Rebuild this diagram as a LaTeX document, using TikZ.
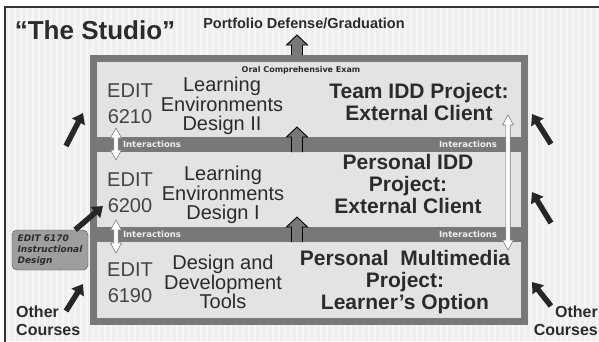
\documentclass[tikz,border=0pt]{standalone}
\usepackage{fontspec}
\setmainfont{Liberation Sans}
\newfontfamily\labelfam{DejaVu Sans}
\usetikzlibrary{arrows.meta,positioning}

\definecolor{bggray}{HTML}{EFEFEF}
\definecolor{framegray}{HTML}{787878}
\definecolor{panelgray}{HTML}{E3E3E3}
\definecolor{inkgray}{HTML}{2B2B2B}
\definecolor{codegray}{HTML}{444444}
\definecolor{boxgray}{HTML}{9E9E9E}

\tikzset{
  course/.style={font=\fontsize{20}{26}\selectfont, text=codegray, align=center, inner sep=0pt},
  coursename/.style={font=\fontsize{20}{19.5}\selectfont, text=inkgray, align=center, inner sep=0pt},
  project/.style={font=\bfseries\fontsize{21}{22}\selectfont, text=inkgray, align=center, inner sep=0pt},
  interact/.style={font=\labelfam\bfseries\fontsize{8.5}{9}\selectfont, text=gray!12, inner sep=0pt},
  others/.style={font=\bfseries\fontsize{16}{18.5}\selectfont, text=inkgray, inner sep=0pt},
  feeder/.style={line width=5.5pt, -{Triangle[length=10pt,width=14pt]}, black!85},
  blockup/.style={fill=framegray, draw=black, line width=0.9pt, line join=miter},
  twowayfill/.style={fill=white, draw=gray, line width=0.6pt},
}

% block arrow: x, tip y, base y
\newcommand{\studioup}[3]{%
  \draw[blockup] (#1-5.5,#3) -- (#1-5.5,#2+10) -- (#1-10.5,#2+10) -- (#1,#2)
    -- (#1+10.5,#2+10) -- (#1+5.5,#2+10) -- (#1+5.5,#3);}
% white two-headed arrow: x, top y, bottom y
\newcommand{\twoway}[3]{%
  \draw[twowayfill] (#1,#2) -- (#1+5.5,#2+10) -- (#1+2.2,#2+10) -- (#1+2.2,#3-10) -- (#1+5.5,#3-10)
    -- (#1,#3) -- (#1-5.5,#3-10) -- (#1-2.2,#3-10) -- (#1-2.2,#2+10) -- (#1-5.5,#2+10) -- cycle;}

\begin{document}
\begin{tikzpicture}[x=1pt, y=-1pt]
\useasboundingbox (0,0) rectangle (599,341);

% striped backdrop
\fill[white] (0,0) rectangle (599,341);
\fill[bggray] (5,7) rectangle (599,341);
\foreach \x in {9,15,...,597}
  \draw[white, line width=2pt, opacity=0.45] (\x,8) -- (\x,341);
\draw[black!80, line width=1.5pt] (5,7) rectangle (604,346);

% the three levels
\fill[framegray] (90,55) rectangle (528,325);
\fill[panelgray] (97,62) rectangle (521,137);
\fill[panelgray] (97,152) rectangle (521,227);
\fill[panelgray] (97,242) rectangle (521,318);

\node[font=\bfseries\fontsize{26}{26}\selectfont, text=inkgray, inner sep=0pt] (studio) at (95,30) {“The Studio”};
\node[font=\bfseries\fontsize{14.5}{15}\selectfont, text=inkgray, inner sep=0pt, anchor=base] (grad) at (304,28) {Portfolio Defense/Graduation};
\node[font=\labelfam\bfseries\fontsize{8}{9}\selectfont, text=inkgray, inner sep=0pt, anchor=base] (exam) at (301,72.5) {Oral Comprehensive Exam};

\node[course] (c6210) at (130,104) {EDIT\\6210};
\node[coursename] (n6210) at (222,106) {Learning\\Environments\\Design II};
\node[project] (p6210) at (419,102) {Team IDD Project:\\External Client};

\node[course] (c6200) at (130,193) {EDIT\\6200};
\node[coursename] (n6200) at (223,195) {Learning\\Environments\\Design I};
\node[project] (p6200) at (408,184) {Personal IDD\\Project:\\External Client};

\node[course] (c6190) at (130,283) {EDIT\\6190};
\node[coursename] (n6190) at (223,282) {Design and\\Development\\Tools};
\node[project] (p6190) at (405,282) {Personal\ \ Multimedia\\Project:\\Learner’s Option};

\node[interact] (ia1) at (152,144.5) {Interactions};
\node[interact] (ia2) at (468,144.5) {Interactions};
\node[interact] (ia3) at (152,234.5) {Interactions};
\node[interact] (ia4) at (468,234.5) {Interactions};

% moving up
\studioup{297}{35}{55}
\studioup{297}{127}{152}
\studioup{297}{217}{242}

\twoway{116}{128}{160}
\twoway{116}{220}{253}
\twoway{508}{115}{250}

\node[draw=black!70, fill=boxgray, rounded corners=5pt, minimum width=76pt, minimum height=40pt,
  align=left, inner sep=0pt, font=\labelfam\bfseries\itshape\fontsize{9}{11}\selectfont, text=inkgray]
  (e6170) at (50,250) {EDIT 6170\\Instructional\\Design};

\node[others, align=left, anchor=west] (otherL) at (16,321) {Other\\Courses};
\node[others, align=right, anchor=east] (otherR) at (598,321) {Other\\Courses};

% courses feeding in
\coordinate (inL1) at (66,146);  \coordinate (toL1) at (83,113);
\coordinate (inL3) at (66,311);  \coordinate (toL3) at (83,284);
\coordinate (to6200) at (103,206);
\coordinate (inR1) at (551,144); \coordinate (toR1) at (532,114);
\coordinate (inR2) at (551,223); \coordinate (toR2) at (532,192);
\coordinate (inR3) at (551,306); \coordinate (toR3) at (532,282);

\draw[feeder] (inL1) -- (toL1);
\draw[feeder] (inL3) -- (toL3);
\draw[feeder] ([xshift=-13pt]e6170.north east) -- (to6200);
\draw[feeder] (inR1) -- (toR1);
\draw[feeder] (inR2) -- (toR2);
\draw[feeder] (inR3) -- (toR3);

\end{tikzpicture}
\end{document}
